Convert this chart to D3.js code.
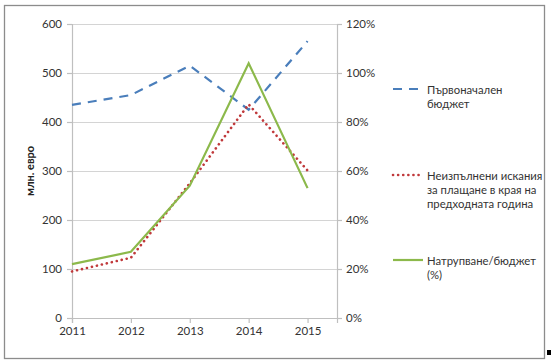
<!DOCTYPE html>
<html><head><meta charset="utf-8">
<script src="https://cdn.jsdelivr.net/npm/d3@7"></script>
<style>body{margin:0;background:#fff}svg{display:block}text{font-family:Lato,"Open Sans","Liberation Sans",sans-serif}</style>
</head><body>
<svg id="c" width="551" height="364"></svg>
<script>
const years = [2011, 2012, 2013, 2014, 2015];
const initialBudget = [435, 455, 515, 425, 565];
const unpaidClaims = [95, 123, 275, 436, 301];
const backlogRatio = [0.22, 0.27, 0.54, 1.04, 0.53];
const leftTicks = [0, 100, 200, 300, 400, 500, 600];
const rightTicks = [0, 0.2, 0.4, 0.6, 0.8, 1.0, 1.2];
const seriesNames = ["Първоначален бюджет", "Неизпълнени искания за плащане в края на предходната година", "Натрупване/бюджет (%)"];
const legendLines = [["Първоначален", "бюджет"], ["Неизпълнени искания", "за плащане в края на", "предходната година"], ["Натрупване/бюджет", "(%)"]];

const svg = d3.select("#c");
const L = 72, R = 337, T = 24, B = 318;
const x = d3.scaleLinear().domain([0, 4.5]).range([L, R]);
const yL = d3.scaleLinear().domain([0, 600]).range([B, T]);
const yR = d3.scaleLinear().domain([0, 1.2]).range([B, T]);

// outer frame
svg.append("rect").attr("x", 4.5).attr("y", 5.5).attr("width", 540).attr("height", 353)
  .attr("fill", "#fff").attr("stroke", "#8c8c8c").attr("stroke-width", 1.3);
svg.append("rect").attr("x", 547).attr("y", 350).attr("width", 4).attr("height", 5).attr("fill", "#000");

// gridlines
svg.append("g").selectAll("line").data(leftTicks.slice(1)).join("line")
  .attr("x1", L).attr("x2", R).attr("y1", d => Math.round(yL(d)) + 0.5).attr("y2", d => Math.round(yL(d)) + 0.5)
  .attr("stroke", "#d4d4d4").attr("stroke-width", 1.2);

// axes
const gl = svg.append("g").attr("transform", `translate(${L},0)`)
  .call(d3.axisLeft(yL).tickValues(leftTicks).tickSize(5).tickPadding(5).tickFormat(d3.format("d")));
const gr = svg.append("g").attr("transform", `translate(${R},0)`)
  .call(d3.axisRight(yR).tickValues(rightTicks).tickSize(5).tickPadding(4).tickFormat(d3.format(".0%")));
const gx = svg.append("g").attr("transform", `translate(0,${B})`)
  .call(d3.axisBottom(x).tickValues([0, 1, 2, 3, 4, 4.5]).tickSize(5).tickPadding(4).tickFormat((d, i) => years[i] !== undefined && Number.isInteger(d) ? years[d] : ""));
[gl, gr, gx].forEach(g => {
  g.select(".domain").attr("stroke", "#bfbfbf").attr("stroke-width", 1.2);
  g.selectAll(".tick line").attr("stroke", "#bfbfbf").attr("stroke-width", 1.2);
  g.selectAll("text").attr("font-size", 11.5).attr("fill", "#333");
});
gx.selectAll(".tick line").filter(d => d === 4.5).remove();

// axis title
svg.append("text").attr("transform", `translate(34,${(T + B) / 2}) rotate(-90)`)
  .attr("text-anchor", "middle").attr("font-size", 11).attr("font-weight", "bold").attr("fill", "#222")
  .text("млн. евро");

// lines
const lineL = d3.line().x((d, i) => x(i)).y(d => yL(d));
const lineR = d3.line().x((d, i) => x(i)).y(d => yR(d));
svg.append("path").datum(initialBudget).attr("d", lineL).attr("fill", "none")
  .attr("stroke", "#4a7ebb").attr("stroke-width", 2.2).attr("stroke-dasharray", "9,7");
svg.append("path").datum(unpaidClaims).attr("d", lineL).attr("fill", "none")
  .attr("stroke", "#c0393b").attr("stroke-width", 2.6).attr("stroke-dasharray", "0.1,5").attr("stroke-linecap", "round");
svg.append("path").datum(backlogRatio).attr("d", lineR).attr("fill", "none")
  .attr("stroke", "#8cb94b").attr("stroke-width", 2.2);

// legend
const styles = [
  {stroke: "#4a7ebb", w: 2.2, dash: "9,7", cap: "butt"},
  {stroke: "#c0393b", w: 2.6, dash: "0.1,5", cap: "round"},
  {stroke: "#8cb94b", w: 2.2, dash: null, cap: "butt"}
];
const legY = [89, 175, 260];
const leg = svg.append("g");
seriesNames.forEach((name, i) => {
  const g = leg.append("g").attr("transform", `translate(0,${legY[i]})`);
  g.append("line").attr("x1", 393).attr("x2", 423).attr("y1", 0).attr("y2", 0)
    .attr("stroke", styles[i].stroke).attr("stroke-width", styles[i].w)
    .attr("stroke-dasharray", styles[i].dash).attr("stroke-linecap", styles[i].cap);
  const t = g.append("text").attr("x", 427).attr("y", 5).attr("font-size", 11.3).attr("fill", "#333");
  legendLines[i].forEach((ln, j) => t.append("tspan").attr("x", 427).attr("dy", j === 0 ? 0 : 14).text(ln));
});
</script>
</body></html>
